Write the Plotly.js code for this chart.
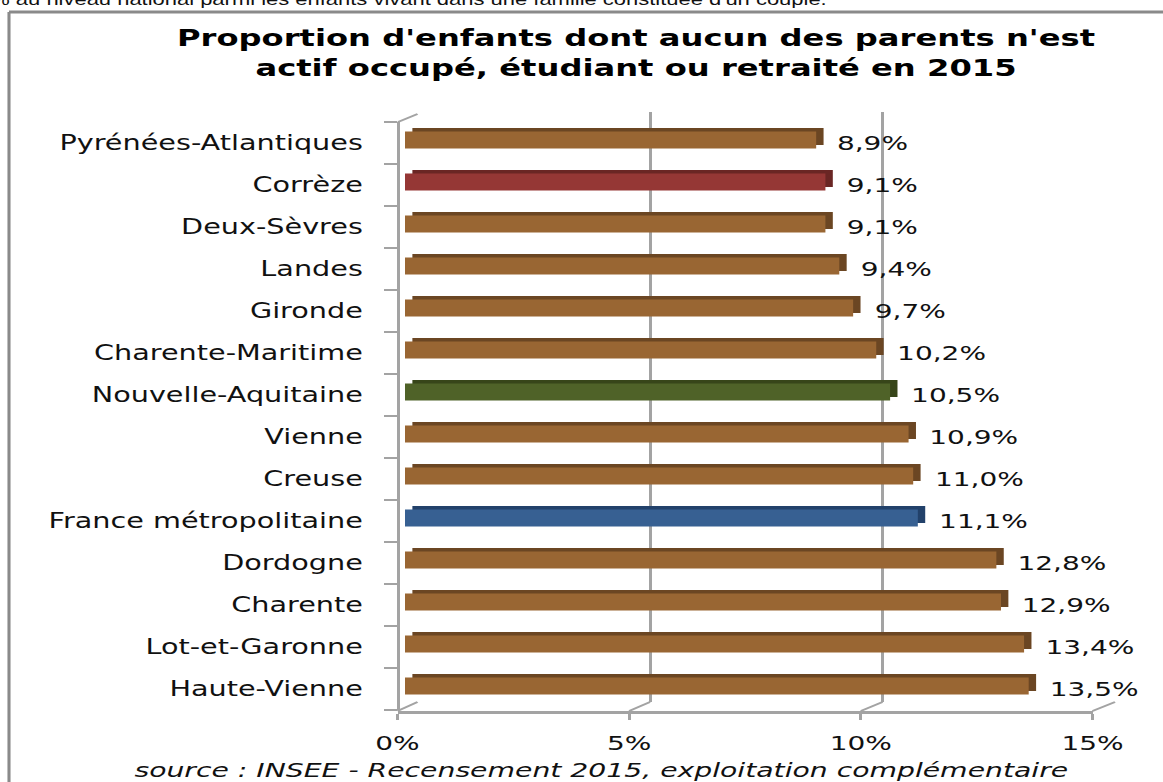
<!DOCTYPE html>
<html>
<head>
<meta charset="utf-8">
<script src="https://cdn.plot.ly/plotly-3.0.1.min.js"></script>
<style>
  html, body { margin: 0; padding: 0; background: #ffffff; overflow: hidden; }
  #chart { width: 831px; height: 782px; transform: scaleX(1.39952); transform-origin: 0 0; }
</style>
</head>
<body>
<div id="chart"></div>
<script>
// ---------------- data ----------------
const categories = [
  'Pyrénées-Atlantiques', 'Corrèze', 'Deux-Sèvres', 'Landes', 'Gironde',
  'Charente-Maritime', 'Nouvelle-Aquitaine', 'Vienne', 'Creuse',
  'France métropolitaine', 'Dordogne', 'Charente', 'Lot-et-Garonne', 'Haute-Vienne'
];
const values = [8.9, 9.1, 9.1, 9.4, 9.7, 10.2, 10.5, 10.9, 11.0, 11.1, 12.8, 12.9, 13.4, 13.5];
const xTickValues = [0, 5, 10, 15];
const xTickLabels = ['0%', '5%', '10%', '15%'];
const titleLines = [
  "Proportion d'enfants dont aucun des parents n'est",
  "actif occupé, étudiant ou retraité en 2015"
];
const sourceText = 'source : INSEE - Recensement 2015, exploitation complémentaire';
const topText = "% au niveau national parmi les enfants vivant dans une famille constituée d'un couple.";

// ---------------- styles ----------------
const FONT = 'DejaVu Sans, Verdana, sans-serif';
const GRID = '#a3a3a3';
const specialColors = {
  'Corrèze': ['#953735', '#6a2624'],
  'Nouvelle-Aquitaine': ['#4f6228', '#374519'],
  'France métropolitaine': ['#376092', '#22416a']
};
const defaultColors = ['#996633', '#6b4623'];
const frontColors = categories.map(c => (specialColors[c] || defaultColors)[0]);
const sideColors = categories.map(c => (specialColors[c] || defaultColors)[1]);

// reference pixel geometry -> paper fractions
const W = 1163, H = 782;
const fx = px => px / W;
const fy = py => 1 - py / H;

const back = { x0: 417.5, x1: 1115, top: 112, bottom: 702 };
const barDom = { x0: 405, x1: 1098 };
const front = { x0: 397.5, x1: 1092.5, y: 711 };
const cat = { top: 122, bottom: 710, lineX: 398 };

const fmt = v => v.toFixed(1).replace('.', ',') + '%';

const traces = [
  { type: 'scatter', x: [], y: [], xaxis: 'x', yaxis: 'y', showlegend: false, hoverinfo: 'skip' },
  { // top / side faces (depth)
    type: 'bar', orientation: 'h', x: values, y: categories, base: 0.16,
    width: 0.405, offset: -0.047, xaxis: 'x2', yaxis: 'y2',
    marker: { color: sideColors, line: { width: 0 } }, showlegend: false, hoverinfo: 'skip'
  },
  { // front faces
    type: 'bar', orientation: 'h', x: values, y: categories,
    width: 0.405, offset: -0.13, xaxis: 'x2', yaxis: 'y2',
    marker: { color: frontColors, line: { width: 0 } }, showlegend: false, hoverinfo: 'skip'
  },
  { type: 'scatter', x: [], y: [], xaxis: 'x3', yaxis: 'y3', showlegend: false, hoverinfo: 'skip' }
];

const annotations = values.map((v, i) => ({
  xref: 'x2', yref: 'y2', x: v, y: categories[i], text: fmt(v),
  xanchor: 'left', yanchor: 'middle', xshift: 13, showarrow: false,
  font: { family: FONT, size: 20, color: '#111111' }
}));
annotations.push({
  xref: 'paper', yref: 'paper', x: fx(600.5), y: fy(770), xanchor: 'center', yanchor: 'middle',
  text: sourceText, showarrow: false,
  font: { family: FONT, size: 20.2, style: 'italic', color: '#111111' }
});
annotations.push({
  xref: 'paper', yref: 'paper', x: fx(-12), y: fy(-1), xanchor: 'left', yanchor: 'middle',
  text: topText, showarrow: false,
  font: { family: 'Liberation Sans, Arial, sans-serif', size: 15.7, color: '#111111' }
});

// decorative 3D frame lines
const shapes = [
  { type: 'line', xref: 'paper', yref: 'paper', x0: fx(9), x1: 1.05, y0: fy(12), y1: fy(12), line: { color: '#8a8a8a', width: 3 } },
  { type: 'line', xref: 'paper', yref: 'paper', x0: fx(9), x1: fx(9), y0: fy(12), y1: -0.05, line: { color: '#8a8a8a', width: 2.2 } },
  { type: 'line', xref: 'paper', yref: 'paper', x0: fx(cat.lineX), x1: fx(back.x0), y0: fy(cat.top), y1: fy(back.top + 2), line: { color: GRID, width: 2 } }
];
xTickValues.forEach(v => {
  const xf = front.x0 + (front.x1 - front.x0) * v / 15;
  const xb = back.x0 + (back.x1 - back.x0) * v / 15;
  shapes.push({ type: 'line', xref: 'paper', yref: 'paper', x0: fx(xf), x1: fx(xb), y0: fy(front.y), y1: fy(back.bottom), line: { color: GRID, width: 2 } });
});

const layout = {
  width: 831, height: 782,
  margin: { l: 0, r: 0, t: 0, b: 0 },
  paper_bgcolor: '#ffffff', plot_bgcolor: 'rgba(0,0,0,0)',
  barmode: 'overlay', hovermode: false, showlegend: false,
  title: {
    text: titleLines.join('<br>'),
    font: { family: FONT, size: 23, weight: 'bold', color: '#000000' },
    x: fx(636), xanchor: 'center', xref: 'paper',
    y: 1 - 46 / H, yanchor: 'top', yref: 'container'
  },
  xaxis: {
    domain: [fx(back.x0), fx(back.x1)], range: [-0.02, 15.02], anchor: 'y',
    tickvals: xTickValues, showticklabels: false, ticks: '',
    showgrid: true, gridcolor: GRID, gridwidth: 2.2, zeroline: false, showline: false, fixedrange: true
  },
  yaxis: {
    domain: [fy(back.bottom), fy(back.top)], range: [0, 1], anchor: 'x', visible: false, fixedrange: true
  },
  xaxis2: {
    domain: [fx(barDom.x0), fx(barDom.x1)], range: [0, 15], anchor: 'y2', visible: false, fixedrange: true
  },
  yaxis2: {
    domain: [fy(cat.bottom), fy(cat.top)], type: 'category',
    categoryorder: 'array', categoryarray: categories.slice().reverse(),
    range: [-0.5, categories.length - 0.5],
    anchor: 'free', position: fx(cat.lineX), side: 'left',
    showline: true, linecolor: GRID, linewidth: 2.1,
    ticks: 'outside', tickson: 'boundaries', ticklen: 9.3, tickwidth: 2.5, tickcolor: GRID,
    ticklabelstandoff: 20,
    tickfont: { family: FONT, size: 20.5, color: '#111111' },
    showgrid: false, zeroline: false, fixedrange: true
  },
  xaxis3: {
    domain: [fx(front.x0), fx(front.x1)], range: [0, 15], anchor: 'y3',
    tickvals: xTickValues, ticktext: xTickLabels,
    showline: true, linecolor: GRID, linewidth: 3,
    ticks: 'outside', ticklen: 6, tickwidth: 2.2, tickcolor: GRID,
    ticklabelstandoff: 6,
    tickfont: { family: FONT, size: 20, color: '#111111' },
    showgrid: false, zeroline: false, fixedrange: true
  },
  yaxis3: {
    domain: [fy(front.y), fy(front.y - 8)], range: [0, 1], anchor: 'x3', visible: false, fixedrange: true
  },
  annotations: annotations,
  shapes: shapes
};

Plotly.newPlot('chart', traces, layout, { staticPlot: true, displayModeBar: false });
</script>
</body>
</html>
